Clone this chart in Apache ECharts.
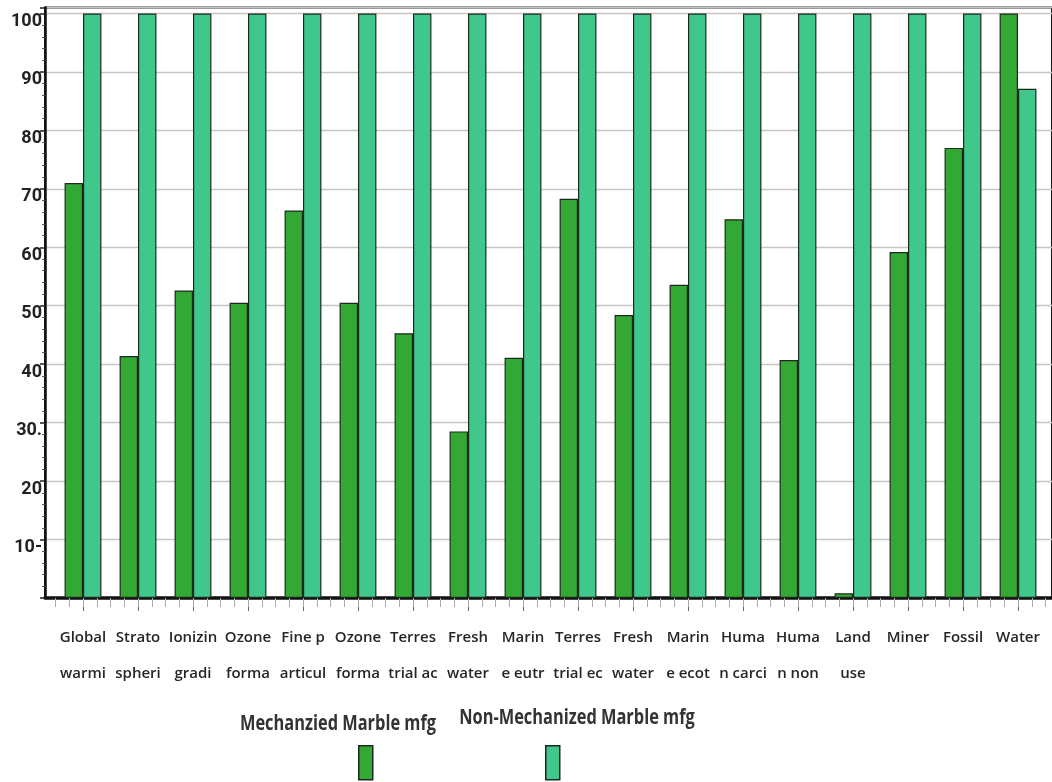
<!DOCTYPE html>
<html>
<head>
<meta charset="utf-8">
<script src="https://cdn.jsdelivr.net/npm/echarts@6/dist/echarts.min.js"></script>
<style>
  html, body { margin: 0; padding: 0; background: #ffffff; }
  #chart { width: 1052px; height: 782px; }
</style>
</head>
<body>
<div id="chart"></div>
<script>
// Impact categories (two-line abbreviated names as printed under the bars)
const categories = [
  'Global\nwarmi', 'Strato\nspheri', 'Ionizin\ngradi', 'Ozone\nforma', 'Fine p\narticul',
  'Ozone\nforma', 'Terres\ntrial ac', 'Fresh\nwater', 'Marin\ne eutr', 'Terres\ntrial ec',
  'Fresh\nwater', 'Marin\ne ecot', 'Huma\nn carci', 'Huma\nn non', 'Land\nuse',
  'Miner', 'Fossil', 'Water'
];

const seriesNames = ['Mechanzied Marble mfg', 'Non-Mechanized Marble mfg'];

// Relative impact (%) per category
const mechanized = [71.0, 41.4, 52.6, 50.5, 66.3, 50.5, 45.3, 28.5, 41.1, 68.3,
                    48.4, 53.6, 64.8, 40.7, 0.8, 59.2, 77.0, 100];
const nonMechanized = [100, 100, 100, 100, 100, 100, 100, 100, 100, 100,
                       100, 100, 100, 100, 100, 100, 100, 87.1];

// Y-axis tick labels, one per 10 units starting at 0
const yTickLabels = ['', '10-', '20', '30.', '40', '50', '60', '70', '80', '90', '100'];

const colors = ['#34a834', '#3fc78c'];

const chart = echarts.init(document.getElementById('chart'), null, { renderer: 'canvas' });

const yMax = 101;
const gridTop = 7.6;
const gridBottom = 184;
const plotLeft = 55.5;
const plotRight = 6.5;

chart.setOption({
  backgroundColor: '#ffffff',
  animation: false,
  grid: [
    // frame grid: axis lines, gridlines, y labels
    { left: 45, right: -4, top: gridTop, bottom: gridBottom, show: true,
      borderColor: '#1a1a1a', borderWidth: 2, backgroundColor: 'transparent' },
    // plotting grid for the bars
    { left: plotLeft, right: plotRight, top: gridTop, bottom: gridBottom },
    // same extent, carries the fine tick marks under the baseline
    { left: plotLeft, right: plotRight, top: gridTop, bottom: gridBottom }
  ],
  xAxis: [
    {
      gridIndex: 0, type: 'value', min: 0, max: 1,
      axisLine: { show: true, lineStyle: { color: '#111', width: 3.5 } },
      axisTick: { show: false }, axisLabel: { show: false }, splitLine: { show: false }
    },
    {
      gridIndex: 1, type: 'category', data: categories, position: 'bottom',
      axisLine: { show: false },
      axisTick: { show: true, alignWithLabel: true, length: 13, lineStyle: { color: '#666', width: 1 } },
      axisLabel: {
        interval: 0, margin: 22, color: '#262626', fontSize: 15, fontWeight: 600,
        fontFamily: '"Open Sans", sans-serif', lineHeight: 36
      },
      splitLine: { show: false }
    },
    {
      gridIndex: 2, type: 'value', min: 0, max: 18, interval: 0.25, position: 'bottom',
      axisLine: { show: false },
      axisTick: { show: true, length: 9, lineStyle: { color: '#aaa', width: 1 } },
      axisLabel: { show: false }, splitLine: { show: false }
    }
  ],
  yAxis: [
    {
      gridIndex: 0, type: 'value', min: 0, max: yMax, interval: 10,
      axisLine: { show: true, lineStyle: { color: '#111', width: 2.5 } },
      axisTick: { show: true, length: 5, lineStyle: { color: '#222', width: 1.5 } },
      minorTick: { show: true, splitNumber: 5, length: 3, lineStyle: { color: '#555' } },
      splitLine: { show: true, lineStyle: { color: '#c9c4c4', width: 1.3 } },
      axisLabel: {
        margin: 3, color: '#222', fontSize: 18, fontWeight: 'bold', fontFamily: 'Roboto, sans-serif',
        verticalAlign: 'top', lineHeight: 16,
        formatter: function (v) {
          if (v % 10 !== 0) return '';
          const t = yTickLabels[v / 10];
          return t === undefined ? '' : t;
        }
      }
    },
    {
      gridIndex: 1, type: 'value', min: 0, max: yMax, show: false,
      splitLine: { show: false }
    },
    {
      gridIndex: 2, type: 'value', min: 0, max: yMax, show: false,
      splitLine: { show: false }
    }
  ],
  legend: [
    {
      data: [seriesNames[0]], left: 358, top: 745, padding: 0, itemWidth: 14, itemHeight: 34,
      icon: 'rect', formatter: function () { return ''; }, itemGap: 0,
      itemStyle: { borderColor: '#1c2a1c', borderWidth: 1.5 }
    },
    {
      data: [seriesNames[1]], left: 545, top: 745, padding: 0, itemWidth: 14, itemHeight: 34,
      icon: 'rect', formatter: function () { return ''; }, itemGap: 0,
      itemStyle: { borderColor: '#1c2a1c', borderWidth: 1.5 }
    }
  ],
  graphic: [
    {
      type: 'text', x: 338, y: 724, scaleX: 0.78, silent: true,
      style: { text: seriesNames[0], fill: '#333', font: 'bold 21px "Open Sans", sans-serif',
               textAlign: 'center', textVerticalAlign: 'middle' }
    },
    {
      type: 'text', x: 577, y: 718, scaleX: 0.78, silent: true,
      style: { text: seriesNames[1], fill: '#333', font: 'bold 21px "Open Sans", sans-serif',
               textAlign: 'center', textVerticalAlign: 'middle' }
    }
  ],
  series: [
    {
      name: seriesNames[0], type: 'bar', xAxisIndex: 1, yAxisIndex: 1,
      data: mechanized, barGap: '0%', barCategoryGap: '33%',
      itemStyle: { color: colors[0], borderColor: '#1c2a1c', borderWidth: 1.2 }
    },
    {
      name: seriesNames[1], type: 'bar', xAxisIndex: 1, yAxisIndex: 1,
      data: nonMechanized, barGap: '0%', barCategoryGap: '33%',
      itemStyle: { color: colors[1], borderColor: '#1c2a1c', borderWidth: 1.2 }
    }
  ]
});
</script>
</body>
</html>
